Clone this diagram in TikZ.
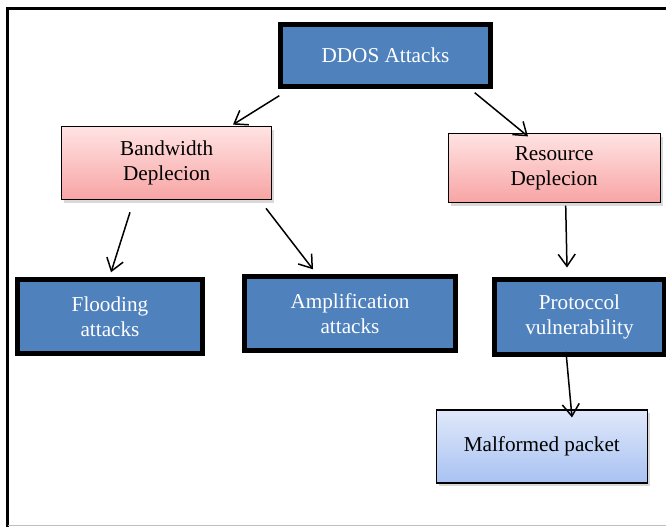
\documentclass[tikz,border=0pt]{standalone}
\usepackage{fontspec}
\setmainfont{Liberation Serif}
\usetikzlibrary{arrows.meta,calc,shadows}
\definecolor{boxblue}{HTML}{4F81BD}
\definecolor{lighttop}{HTML}{E0E8FA}
\definecolor{lightbot}{HTML}{A8C2F2}
\definecolor{pinktop}{HTML}{FFE3E3}
\definecolor{pinkbot}{HTML}{F8A4A4}
\begin{document}
\begin{tikzpicture}[x=.5pt, y=-.5pt, >={Straight Barb[length=6pt,width=8.5pt]},
  bluebox/.style={draw=black, line width=2.7pt, fill=boxblue, text=white, align=center,
    font=\fontsize{10.6}{12.5}\selectfont, inner sep=0pt},
  pinkbox/.style={draw=black, line width=.6pt, top color=pinktop, bottom color=pinkbot, align=center,
    font=\fontsize{10.6}{12.5}\selectfont, inner sep=0pt,
    drop shadow={shadow xshift=1.2pt, shadow yshift=-1.5pt, opacity=.3}},
  lightbox/.style={pinkbox, top color=lighttop, bottom color=lightbot},
  arr/.style={->, line width=.75pt}]
\useasboundingbox (0,0) rectangle (666,527);
\draw[line width=1.2pt] (7.5,527) -- (7.5,8.5) -- (670,8.5);
\draw[black!25, line width=.8pt] (7.5,525.5) -- (670,525.5);

\node[bluebox, minimum width=105pt, minimum height=31pt] (ddos) at (385.5,55.5) {DDOS Attacks};
\node[pinkbox, minimum width=105pt, minimum height=36.5pt] (bw) at (166.7,163.2) {Bandwidth\\Deplecion};
\node[pinkbox, minimum width=106pt, minimum height=34.5pt] (res) at (554.2,168) {Resource\\Deplecion};
\node[bluebox, minimum width=92.5pt, minimum height=37pt] (flood) at (110,316.5) {Flooding\\attacks};
\node[bluebox, minimum width=105.5pt, minimum height=37pt] (amp) at (350,313.5) {Amplification\\attacks};
\node[bluebox, minimum width=85.3pt, minimum height=37.5pt] (prot) at (579.5,316.7) {Protoccol\\vulnerability};
\node[lightbox, minimum width=105.5pt, minimum height=36.5pt] (malf) at (541.8,446.5) {Malformed packet};

\draw[arr] ($(ddos.south west)+(1.5,6.5)$) -- ($(bw.north east)+(-39.3,-1.5)$);
\draw[arr] ($(ddos.south east)+(-18.5,3.5)$) -- ($(res.north)+(-26.2,3.5)$);
\draw[arr] ($(bw.south)+(-36.7,12)$) -- ($(flood.north)+(1,-4.5)$);
\draw[arr] ($(bw.south east)+(-6.3,8)$) -- ($(amp.north)+(-37,-4.5)$);
\draw[arr] ($(res.south)+(11.5,2.5)$) -- ($(prot.north)+(-12.5,-9)$);
\draw[arr] ($(prot.south)+(-13.5,-5)$) -- ($(malf.north)+(30.2,8)$);
\end{tikzpicture}
\end{document}
